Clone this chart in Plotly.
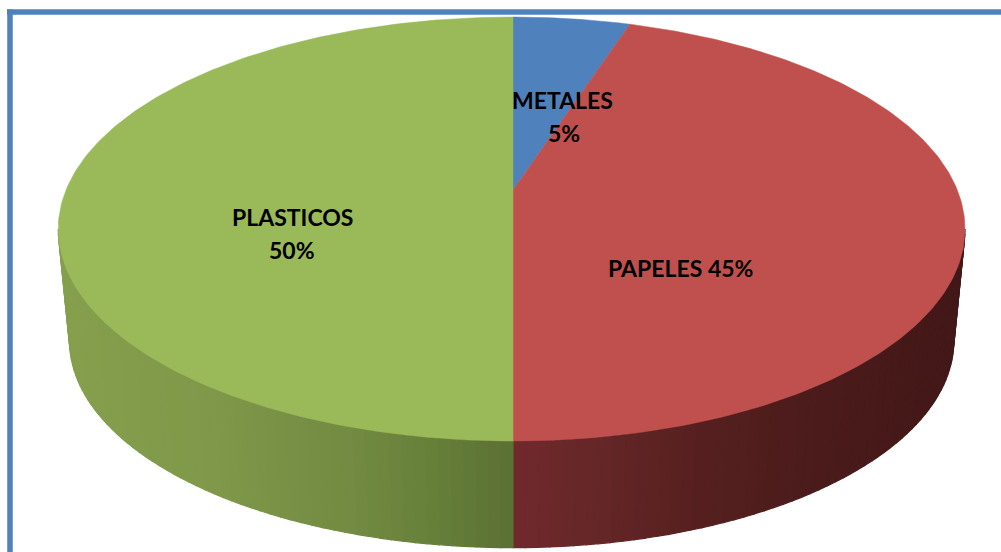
import numpy as np
import plotly.graph_objects as go

categories = ["METALES", "PAPELES", "PLASTICOS"]
values = [5, 45, 50]
colors = ["#4f81bd", "#c0504d", "#9ab958"]
label_lines = [["METALES", "5%"], ["PAPELES 45%"], ["PLASTICOS", "50%"]]
label_xy = [[(562, 100), (564, 133)], [(680, 268)], [(292, 217), (292, 250)]]
rim_stops = {
    "PAPELES": ([513, 600, 700, 800, 965], [(112, 42, 44), (101, 39, 40), (87, 32, 32), (77, 28, 28), (67, 24, 24)]),
    "PLASTICOS": ([58, 200, 350, 450, 513], [(134, 160, 78), (128, 153, 74), (115, 139, 66), (100, 125, 56), (92, 112, 52)]),
}

CX, APEX_Y, B, K = 513.0, 190.0, 204.8, 0.184
A_RIGHT, A_LEFT = 444.3, 447.0
S, BOTTOM_CY, TOP_CY = 0.975, 341.0, 229.0


def top_face(theta):
    w = 1 + K * np.cos(theta)
    sin = np.sin(theta)
    return CX + np.where(sin >= 0, A_RIGHT, A_LEFT) * sin / w, APEX_Y - B * np.cos(theta) / w


def bottom_face(theta):
    x, y = top_face(theta)
    return CX + S * (x - CX), BOTTOM_CY + S * (y - TOP_CY)


edges = np.cumsum([0] + values) / sum(values) * 2 * np.pi
fig = go.Figure()

front_a, front_b = np.arccos(-K), 2 * np.pi - np.arccos(-K)
for name, a0, a1 in zip(categories, edges[:-1], edges[1:]):
    lo, hi = max(a0, front_a), min(a1, front_b)
    if lo >= hi:
        continue
    ticks = np.linspace(lo, hi, 61)
    xs_stop, cols = rim_stops[name]
    for t0, t1 in zip(ticks[:-1], ticks[1:]):
        arc = np.linspace(t0, t1, 4)
        tx, ty = top_face(arc)
        bx, by = bottom_face(arc[::-1])
        mid = top_face((t0 + t1) / 2)[0]
        rgb = [int(np.interp(mid, xs_stop, [c[i] for c in cols])) for i in range(3)]
        col = f"rgb({rgb[0]},{rgb[1]},{rgb[2]})"
        fig.add_trace(go.Scatter(
            x=np.r_[tx, bx, tx[0]], y=np.r_[ty, by, ty[0]], mode="lines",
            fill="toself", fillcolor=col, line=dict(color=col, width=1.2),
            hoverinfo="skip", showlegend=False))

for name, col, a0, a1 in zip(categories, colors, edges[:-1], edges[1:]):
    arc = np.linspace(a0, a1, 200)
    x, y = top_face(arc)
    fig.add_trace(go.Scatter(
        x=np.r_[CX, x, CX], y=np.r_[APEX_Y, y, APEX_Y], mode="lines",
        fill="toself", fillcolor=col, line=dict(color=col, width=0.5),
        name=name, hoverinfo="name", showlegend=False))

annotations = []
for lines, spots in zip(label_lines, label_xy):
    for text, (px, py) in zip(lines, spots):
        annotations.append(dict(x=px, y=py, text=text, showarrow=False,
                                font=dict(family="Lato", size=23, color="#000000", weight="bold"),
                                xanchor="center", yanchor="middle"))

frame = dict(type="line", line=dict(color="#4f81bd", width=5.5), layer="above")
fig.update_layout(
    width=1001, height=552, margin=dict(l=0, r=0, t=0, b=0),
    paper_bgcolor="#ffffff", plot_bgcolor="#ffffff", showlegend=False,
    xaxis=dict(range=[0, 1001], visible=False, fixedrange=True),
    yaxis=dict(range=[552, 0], visible=False, fixedrange=True),
    annotations=annotations,
    shapes=[dict(frame, x0=7, x1=1001, y0=12, y1=12),
            dict(frame, x0=10, x1=10, y0=9.5, y1=552)],
)
fig.write_html("out.html", post_script="document.body.style.margin='0';",
               config={"displayModeBar": False})
